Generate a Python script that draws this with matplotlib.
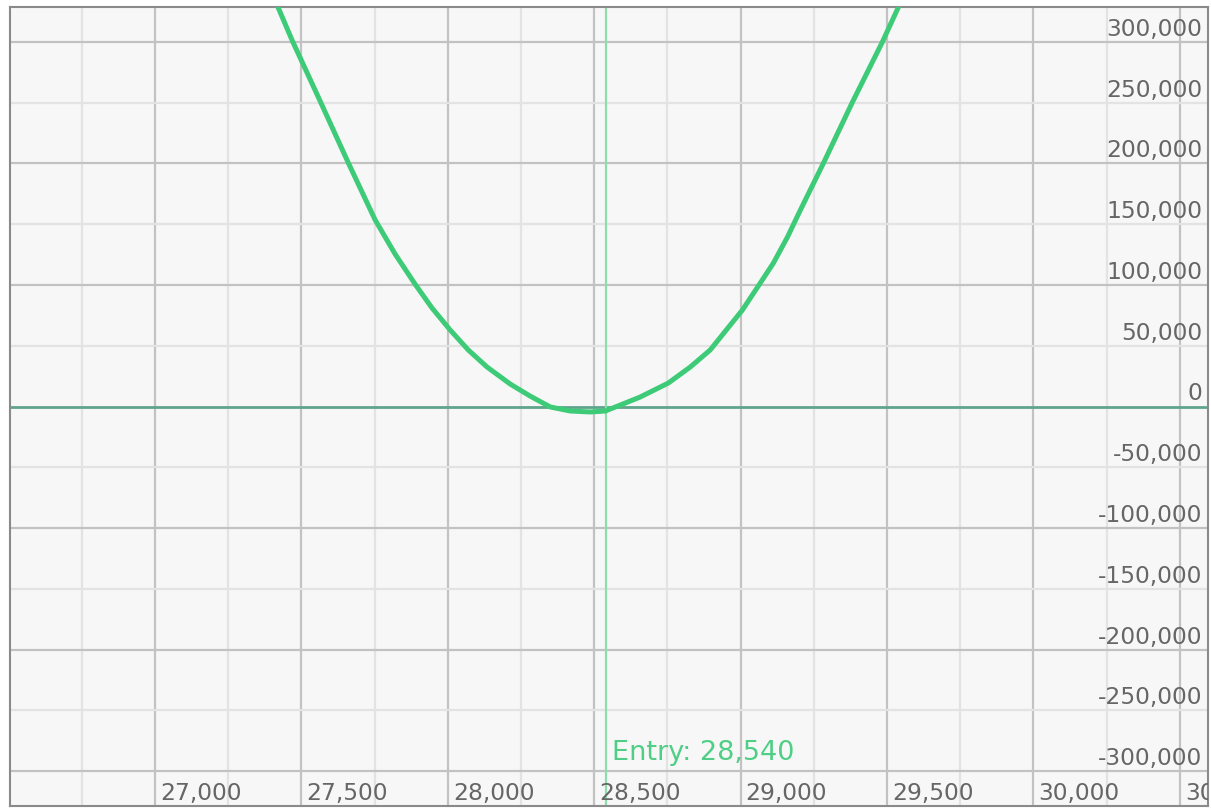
import matplotlib.pyplot as plt
import matplotlib.transforms as mtransforms

# данные
price = [27420, 27468, 27564, 27659, 27752, 27820, 27888, 27946, 28008, 28070,
         28134, 28213, 28281, 28350, 28418, 28486, 28538, 28589, 28657, 28753,
         28828, 28896, 29006, 29067, 29112, 29160, 29204, 29283, 29382, 29484,
         29539]
pnl = [328800, 301600, 251400, 201200, 153500, 125500, 100800, 81100, 63000, 46500,
       32500, 18500, 8600, -400, -3700, -4500, -3700, 1200, 7800, 19300,
       32500, 46500, 79400, 101600, 118100, 139500, 161700, 200400, 250600, 300000,
       328800]

entry_price = 28540
x_ticks = [27000, 27500, 28000, 28500, 29000, 29500, 30000, 30500]
x_minor = [26750, 27250, 27750, 28250, 28750, 29250, 29750, 30250]
y_ticks = [300000, 250000, 200000, 150000, 100000, 50000, 0,
           -50000, -100000, -150000, -200000, -250000, -300000]

fig = plt.figure(figsize=(12.11, 8.08), dpi=100)
ax = fig.add_axes([10 / 1211, 2 / 808, 1198 / 1211, 799 / 808])
ax.set_facecolor('#f7f7f7')
ax.set_xlim(26505, 30596)
ax.set_ylim(-328800, 328800)
ax.set_xticks([])
ax.set_yticks([])
for s in ax.spines.values():
    s.set_color('#8a8a8a')
    s.set_linewidth(1.5)

# сетка
for v in x_minor:
    ax.axvline(v, color='#e3e3e3', lw=1.6, zorder=0)
for v in x_ticks:
    ax.axvline(v, color='#c2c2c2', lw=1.6, zorder=0)
for v in y_ticks:
    if v == 0:
        continue
    c = '#c2c2c2' if v % 100000 == 0 else '#e3e3e3'
    ax.axhline(v, color=c, lw=1.6, zorder=0)
ax.axhline(0, color='#5fa58c', lw=2, zorder=1)

ax.axvline(entry_price, color='#8fdcae', lw=1.6, zorder=2)
ax.plot(price, pnl, color='#3ecb78', lw=3.6, zorder=3,
        solid_capstyle='round', solid_joinstyle='round')

# подписи осей
xt = mtransforms.blended_transform_factory(ax.transData, ax.transAxes)
yt = mtransforms.blended_transform_factory(ax.transAxes, ax.transData)
for v in x_ticks:
    tr = mtransforms.offset_copy(xt, fig=fig, x=5, y=6, units='dots')
    ax.text(v, 0, f'{v:,}', transform=tr, ha='left', va='baseline',
            fontsize=16.8, color='#666666', clip_on=True, zorder=4)
for v in y_ticks:
    tr = mtransforms.offset_copy(yt, fig=fig, x=-6, y=6, units='dots')
    ax.text(1, v, f'{v:,}', transform=tr, ha='right', va='baseline',
            fontsize=16.8, color='#666666', zorder=4)

tr = mtransforms.offset_copy(xt, fig=fig, x=6, y=46, units='dots')
ax.text(entry_price, 0, f'Entry: {entry_price:,}', transform=tr, ha='left',
        va='baseline', fontsize=19.5, color='#4fcf85', zorder=4)

fig.savefig('out.png', dpi=100, facecolor='white')
